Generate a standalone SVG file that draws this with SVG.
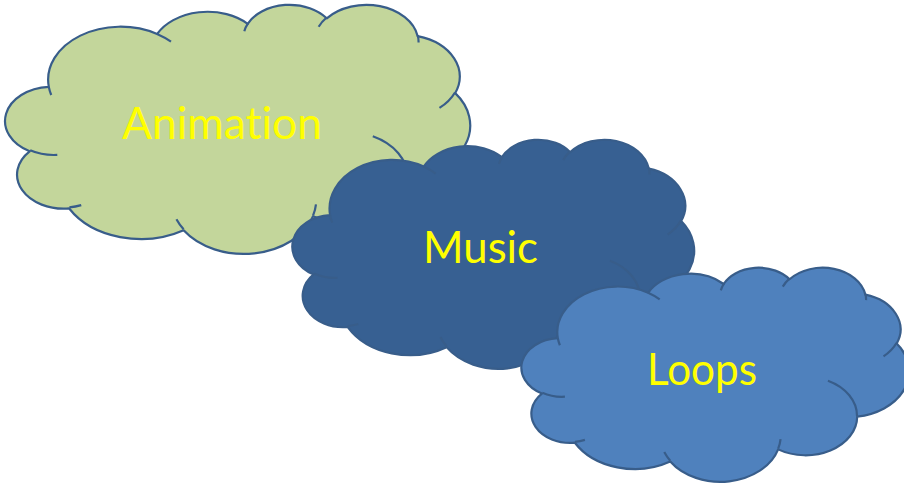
<svg xmlns="http://www.w3.org/2000/svg" xmlns:xlink="http://www.w3.org/1999/xlink" width="904" height="484" viewBox="0 0 904 484">
<style>
.outline{stroke:#385D8A;stroke-width:2.2;stroke-linejoin:round}
.inner{fill:none;stroke:#385D8A;stroke-width:2.2}
.lbl{font-family:Lato,"Open Sans","Liberation Sans",sans-serif;font-size:44px;fill:#FFFF00;font-variant-ligatures:none;font-feature-settings:"liga" 0,"clig" 0}
</style>
<defs>
<path id="cloud" vector-effect="non-scaling-stroke" d="M3900 14370 A6753 9190 0 0 1 14005 5202 A5333 7267 0 0 1 22456 3432 A4365 5945 0 0 1 29833 2481 A4857 6595 0 0 1 38318 5576 A5333 7273 0 0 1 41819 15460 A6775 9220 0 0 1 37404 30203 A5785 7867 0 0 1 28556 36813 A6752 9215 0 0 1 16481 39264 A7720 10543 0 0 1 5805 35470 A4360 5918 0 0 1 2114 25548 A4345 5945 0 0 1 3900 14370 Z"/>
<path id="cloudIn" vector-effect="non-scaling-stroke" d="M4693 26177 A4345 5945 0 0 1 2160 25380 M6928 34899 A4360 5918 0 0 1 5820 35281 M16478 39090 A6752 9215 0 0 1 15810 37350 M28827 34751 A6752 9215 0 0 1 28560 36660 M34129 22954 A5785 7867 0 0 1 37380 30090 M41798 15354 A5333 7273 0 0 1 40350 18030 M38324 5426 A4857 6595 0 0 1 38400 6690 M29078 3952 A4857 6595 0 0 1 29820 2339 M22141 4720 A4365 5945 0 0 1 22500 3330 M14000 5192 A6753 9190 0 0 1 15300 6540 M4127 15789 A6753 9190 0 0 1 3900 14370"/>
</defs>
<rect width="904" height="484" fill="#FFFFFF"/>
<g id="connectors"/>
<g id="animation">
<g transform="translate(7,4) scale(0.010718,0.005764)">
<use xlink:href="#cloud" class="outline" fill="#C3D69B"/>
<use xlink:href="#cloudIn" class="inner"/>
</g>
<text class="lbl" x="122" y="139" textLength="200" lengthAdjust="spacingAndGlyphs">Animation</text>
</g>
<g id="music">
<g transform="translate(294,139) scale(0.009259,0.005301)">
<use xlink:href="#cloud" class="outline" fill="#376092"/>
<use xlink:href="#cloudIn" class="inner"/>
</g>
<text class="lbl" x="423" y="263" textLength="115" lengthAdjust="spacingAndGlyphs">Music</text>
</g>
<g id="loops">
<g transform="translate(523,267) scale(0.008935,0.004954)">
<use xlink:href="#cloud" class="outline" fill="#4F81BD"/>
<use xlink:href="#cloudIn" class="inner"/>
</g>
<text class="lbl" x="647" y="385" textLength="110" lengthAdjust="spacingAndGlyphs">Loops</text>
</g>
</svg>
